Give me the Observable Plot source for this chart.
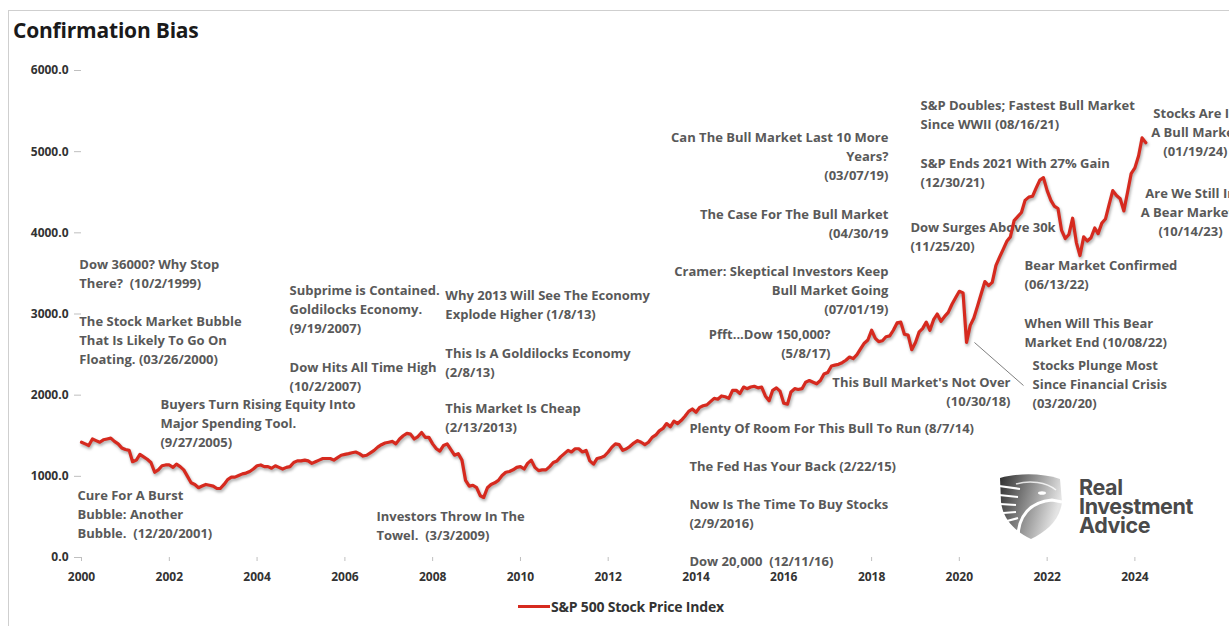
<!DOCTYPE html>
<html><head><meta charset="utf-8">
<script src="https://cdn.jsdelivr.net/npm/d3@7"></script>
<script src="https://cdn.jsdelivr.net/npm/@observablehq/plot@0.6"></script>
<style>
html,body{margin:0;padding:0;background:#fff;overflow:hidden;}
body{width:1229px;height:626px;position:relative;font-family:"Open Sans",sans-serif;}
#frame{position:absolute;left:8px;top:10px;width:1300px;height:700px;border-left:1px solid #cfcfcf;border-top:1px solid #cfcfcf;}
#title{position:absolute;left:13px;top:15px;font-size:21px;font-weight:700;color:#1a1a1a;line-height:30px;white-space:nowrap;letter-spacing:-0.2px;}
#chart{position:absolute;left:0;top:60px;}
#chart svg{overflow:visible;}
#chart g[aria-label="y-axis tick"], #chart g[aria-label="x-axis tick"], #chart g[aria-label="x-axis line"], #chart g[aria-label="y-axis line"]{stroke:#bfbfbf;}
#chart g[aria-label="y-axis tick label"], #chart g[aria-label="x-axis tick label"]{fill:#333;}
#chart g[aria-label="line"]{filter:drop-shadow(1px 2px 1.5px rgba(0,0,0,0.35));}
#legend{position:absolute;left:518px;top:597px;display:flex;align-items:center;font-size:14px;font-weight:700;color:#333;white-space:nowrap;letter-spacing:-0.2px;}
#legend .sw{width:32px;height:3px;background:#d62a1f;margin-right:1px;}
#logo{position:absolute;left:996px;top:472px;}
#logotext{position:absolute;left:1079px;top:478px;font-family:Inter,sans-serif;font-weight:700;font-size:21.5px;line-height:19px;color:#4a4a4a;letter-spacing:-0.4px;}
</style></head>
<body>
<div id="frame"></div>
<div id="title">Confirmation Bias</div>
<div id="chart"></div>
<div id="legend"><div class="sw"></div><span>S&amp;P 500 Stock Price Index</span></div>
<svg id="logo" width="70" height="70" viewBox="0 0 70 70">
  <defs><linearGradient id="lg" x1="0" x2="1" y1="0" y2="0.3">
    <stop offset="0" stop-color="#2e2e2e"/><stop offset="1" stop-color="#e4e4e4"/></linearGradient></defs>
  <path d="M4,6 C22,1 46,1 64,7 L66,30 C64,48 50,60 35,67 C20,60 7,48 5,30 Z" fill="url(#lg)"/>
  <path d="M3,14 L24,17 M3,23 L22,25 M4,32 L20,33 M7,41 L20,40 M11,49 L22,46" stroke="#fff" stroke-width="2.2" fill="none"/>
  <path d="M22,66 C22,44 34,30 56,28 L66,30" stroke="#fff" stroke-width="3" fill="none"/>
  <path d="M20,12 C34,8 50,10 60,18" stroke="#fff" stroke-width="1.6" fill="none" opacity="0.8"/>
  <ellipse cx="46" cy="21" rx="4" ry="1.8" fill="#fff"/>
</svg>
<div id="logotext">Real<br>Investment<br>Advice</div>
<script>
// S&P 500 monthly levels, Jan 2000 .. Apr 2024
const spxValues = [
  // 2000
  1420,1400,1380,1460,1440,1420,1450,1460,1470,1430,1400,1350,
  // 2001
  1330,1320,1180,1200,1270,1240,1210,1170,1050,1080,1130,1140,
  // 2002
  1140,1110,1150,1120,1080,1000,920,900,860,880,900,890,
  // 2003
  880,850,850,900,960,990,990,1010,1030,1040,1060,1090,
  // 2004
  1130,1140,1120,1120,1100,1130,1110,1090,1110,1120,1170,1190,
  // 2005
  1190,1200,1190,1160,1180,1200,1220,1220,1220,1200,1230,1260,
  // 2006
  1270,1280,1290,1300,1280,1250,1260,1290,1320,1360,1390,1410,
  // 2007
  1420,1430,1400,1460,1500,1530,1520,1460,1490,1540,1480,1480,
  // 2008
  1400,1340,1310,1380,1400,1330,1260,1280,1200,950,880,890,
  // 2009
  860,760,740,860,900,920,950,1010,1050,1060,1080,1110,
  // 2010
  1120,1090,1160,1200,1110,1070,1080,1080,1120,1170,1190,1240,
  // 2011
  1280,1320,1300,1340,1340,1300,1320,1190,1150,1220,1230,1250,
  // 2012
  1300,1360,1400,1390,1320,1340,1370,1410,1440,1420,1390,1420,
  // 2013
  1480,1510,1560,1590,1650,1610,1680,1650,1690,1740,1800,1830,
  // 2014
  1790,1850,1870,1880,1920,1960,1950,1990,1980,1960,2060,2060,
  // 2015
  2020,2100,2080,2100,2110,2090,2100,1990,1930,2060,2090,2050,
  // 2016
  1900,1890,2040,2080,2070,2080,2160,2180,2160,2140,2180,2260,
  // 2017
  2280,2360,2370,2380,2400,2430,2470,2450,2500,2570,2640,2680,
  // 2018
  2800,2700,2660,2670,2720,2730,2800,2890,2900,2750,2740,2560,
  // 2019
  2650,2780,2820,2900,2800,2930,3000,2910,2970,3020,3120,3200,
  // 2020
  3280,3260,2650,2860,2950,3100,3250,3400,3350,3390,3600,3700,
  // 2021
  3800,3900,3950,4150,4200,4250,4400,4440,4450,4550,4650,4680,
  // 2022
  4520,4400,4330,4300,4030,3930,3980,4180,3880,3720,3950,3900,
  // 2023
  3940,4060,3990,4120,4170,4350,4520,4460,4420,4270,4500,4730,
  // 2024
  4800,4950,5170,5110
];
const spxDates = spxValues.map((_, i) => new Date(Date.UTC(2000, i, 1)));
const spx = spxValues.map((v, i) => ({date: spxDates[i], value: v}));

const yTicks = [0, 1000, 2000, 3000, 4000, 5000, 6000];
const xTickYears = [2000, 2002, 2004, 2006, 2008, 2010, 2012, 2014, 2016, 2018, 2020, 2022, 2024];
const xDomain = ["2000-01-01", "2024-04-15"];

// Headline annotations, anchored in chart (date, index level) coordinates
const annoStart = [
  {date:"1999-12-14", value:3717, label:"Dow 36000? Why Stop\nThere?  (10/2/1999)"},
  {date:"1999-12-14", value:3014, label:"The Stock Market Bubble\nThat Is Likely To Go On\nFloating. (03/26/2000)"},
  {date:"1999-11-28", value:871,  label:"Cure For A Burst\nBubble: Another\nBubble.  (12/20/2001)"},
  {date:"2001-10-19", value:1992, label:"Buyers Turn Rising Equity Into\nMajor Spending Tool.\n(9/27/2005)"},
  {date:"2004-09-27", value:3396, label:"Subprime is Contained.\nGoldilocks Economy.\n(9/19/2007)"},
  {date:"2004-09-27", value:2448, label:"Dow Hits All Time High\n(10/2/2007)"},
  {date:"2006-09-20", value:612,  label:"Investors Throw In The\nTowel.  (3/3/2009)"},
  {date:"2008-04-16", value:3335, label:"Why 2013 Will See The Economy\nExplode Higher (1/8/13)"},
  {date:"2008-04-16", value:2620, label:"This Is A Goldilocks Economy\n(2/8/13)"},
  {date:"2008-04-16", value:1943, label:"This Market Is Cheap\n(2/13/2013)"},
  {date:"2013-11-07", value:1696, label:"Plenty Of Room For This Bull To Run (8/7/14)"},
  {date:"2013-11-07", value:1228, label:"The Fed Has Your Back (2/22/15)"},
  {date:"2013-11-07", value:760,  label:"Now Is The Time To Buy Stocks\n(2/9/2016)"},
  {date:"2013-11-07", value:58,   label:"Dow 20,000  (12/11/16)"},
  {date:"2019-02-12", value:5675, label:"S&P Doubles; Fastest Bull Market\nSince WWII (08/16/21)"},
  {date:"2019-02-12", value:4961, label:"S&P Ends 2021 With 27% Gain\n(12/30/21)"},
  {date:"2018-11-20", value:4173, label:"Dow Surges Above 30k\n(11/25/20)"},
  {date:"2021-06-27", value:3704, label:"Bear Market Confirmed\n(06/13/22)"},
  {date:"2021-06-27", value:2990, label:"When Will This Bear\nMarket End (10/08/22)"},
  {date:"2021-09-01", value:2472, label:"Stocks Plunge Most\nSince Financial Crisis\n(03/20/20)"}
];
const annoEnd = [
  {date:"2018-05-21", value:5281, label:"Can The Bull Market Last 10 More\nYears?\n(03/07/19)"},
  {date:"2018-05-21", value:4333, label:"The Case For The Bull Market\n(04/30/19"},
  {date:"2018-05-21", value:3630, label:"Cramer: Skeptical Investors Keep\nBull Market Going\n(07/01/19)"},
  {date:"2017-01-24", value:2854, label:"Pfft...Dow 150,000?\n(5/8/17)"},
  {date:"2021-03-02", value:2263, label:"This Bull Market's Not Over\n(10/30/18)"}
];
const annoMiddle = [
  {date:"2025-05-19", value:5577, label:"Stocks Are In\nA Bull Market\n(01/19/24)"},
  {date:"2025-04-08", value:4592, label:"Are We Still In\nA Bear Market?\n(10/14/23)"}
];
// leader from the March 2020 low to its label
const leader = [{x1:"2020-05-06", y1:2649, x2:"2021-06-18", y2:2119}];

const P = a => a.map(d => ({...d, date: new Date(d.date)}));
const textOpts = {x:"date", y:"value", text:"label", lineAnchor:"top", lineHeight:1.46,
  fontSize:13, fontWeight:700, fill:"#595959"};

const chart = Plot.plot({
  width:1229, height:530,
  marginTop:10, marginBottom:33, marginLeft:81, marginRight:82,
  style:{fontFamily:"Open Sans", fontSize:"12px", fontWeight:"700", background:"transparent", overflow:"visible"},
  x:{type:"utc", domain:xDomain.map(d => new Date(d))},
  y:{domain:[0, 6000]},
  marks:[
    Plot.axisY(yTicks, {tickSize:7, tickPadding:6, tickFormat:d => d.toFixed(1), line:true, label:null}),
    Plot.axisX(xTickYears.map(y => new Date(Date.UTC(y, 0, 1))), {tickSize:4, tickPadding:11, tickFormat:d3.utcFormat("%Y"), line:true, label:null}),
    Plot.link(leader, {x1:d => new Date(d.x1), y1:"y1", x2:d => new Date(d.x2), y2:"y2", stroke:"#7f7f7f", strokeWidth:1}),
    Plot.text(P(annoStart), {...textOpts, textAnchor:"start"}),
    Plot.text(P(annoEnd), {...textOpts, textAnchor:"end"}),
    Plot.text(P(annoMiddle), {...textOpts, textAnchor:"middle"}),
    Plot.line(spx, {x:"date", y:"value", stroke:"#d62a1f", strokeWidth:3.2, strokeLinejoin:"round"})
  ]
});
document.getElementById("chart").appendChild(chart);
</script>
</body></html>
